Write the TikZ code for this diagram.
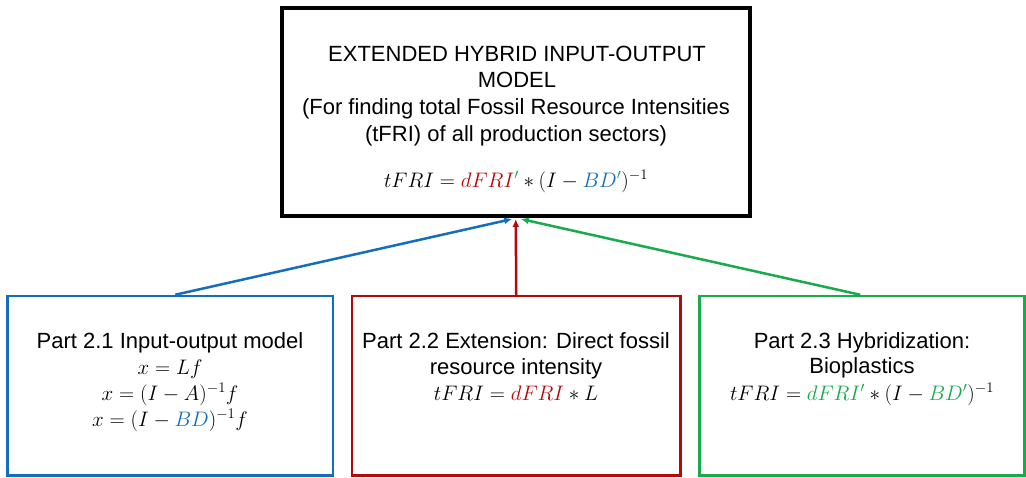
\documentclass[tikz,border=0pt]{standalone}
\usepackage{fix-cm}
\usepackage{fontspec}
\setmainfont{Liberation Sans}
\usetikzlibrary{arrows.meta}
\definecolor{cblue}{RGB}{20,110,190}
\definecolor{cred}{RGB}{180,10,10}
\definecolor{cgreen}{RGB}{25,170,75}
\begin{document}
\begin{tikzpicture}[x=1pt,y=-1pt,
  font=\fontsize{22}{26}\selectfont,
  txt/.style={anchor=base, inner sep=0pt},
  eq/.style={anchor=base, inner sep=0pt, font=\fontsize{21}{26}\selectfont},
  mainbox/.style={draw=black, line width=4pt, inner sep=0pt},
  partbox/.style={line width=2.5pt, inner sep=0pt, minimum height=179.5pt},
  conn/.style={line width=2.5pt, -{Latex[length=8pt,width=7pt]}}]
\useasboundingbox[fill=white] (0,0) rectangle (1026,477);
% boxes
\node[mainbox, minimum width=468.5pt, minimum height=208pt] (top) at (515.75,111.5) {};
\node[partbox, draw=cblue, minimum width=325.5pt] (blue) at (170.25,385.75) {};
\node[partbox, draw=cred, minimum width=328.5pt] (red) at (516.25,385.75) {};
\node[partbox, draw=cgreen, minimum width=325pt] (green) at (862.2,385.75) {};
% top text
\node[txt] (t1) at (517,61) {EXTENDED HYBRID INPUT-OUTPUT};
\node[txt] (t2) at (517,87) {MODEL};
\node[txt] (t3) at (516,114) {(For finding total Fossil Resource Intensities};
\node[txt] (t4) at (516,141) {(tFRI) of all production sectors)};
\node[eq] (t5) at (516,187) {$tFRI = {\color{cred}dFRI}{}^{\color{cgreen}\prime} \ast (I - {\color{cblue}BD}{}^{\color{cgreen}\prime})^{-1}$};
% blue text
\node[txt] (b1) at (170,348) {Part 2.1 Input-output model};
\node[eq] (b2) at (170,374) {$x = Lf$};
\node[eq] (b3) at (170,400) {$x = (I - A)^{-1}f$};
\node[eq] (b4) at (170,426) {$x = (I - {\color{cblue}BD})^{-1}f$};
% red text
\node[txt] (r1) at (516,348) {Part 2.2 Extension: Direct fossil};
\node[txt] (r2) at (516,374) {resource intensity};
\node[eq] (r3) at (516,400) {$tFRI = {\color{cred}dFRI} \ast L$};
% green text
\node[txt] (g1) at (862,348) {Part 2.3 Hybridization:};
\node[txt] (g2) at (862,373) {Bioplastics};
\node[eq] (g3) at (862,400) {$tFRI = {\color{cgreen}dFRI'} \ast (I - {\color{cgreen}BD'})^{-1}$};
% connectors
\draw[conn, cblue] ([xshift=5pt]blue.north) -- ([xshift=-3.5pt,yshift=-1.5pt]top.south);
\draw[conn, cred] (red.north) -- ([yshift=-1.5pt]top.south);
\draw[conn, cgreen] ([xshift=-2pt]green.north) -- ([xshift=5pt,yshift=-1.5pt]top.south);
\end{tikzpicture}
\end{document}
